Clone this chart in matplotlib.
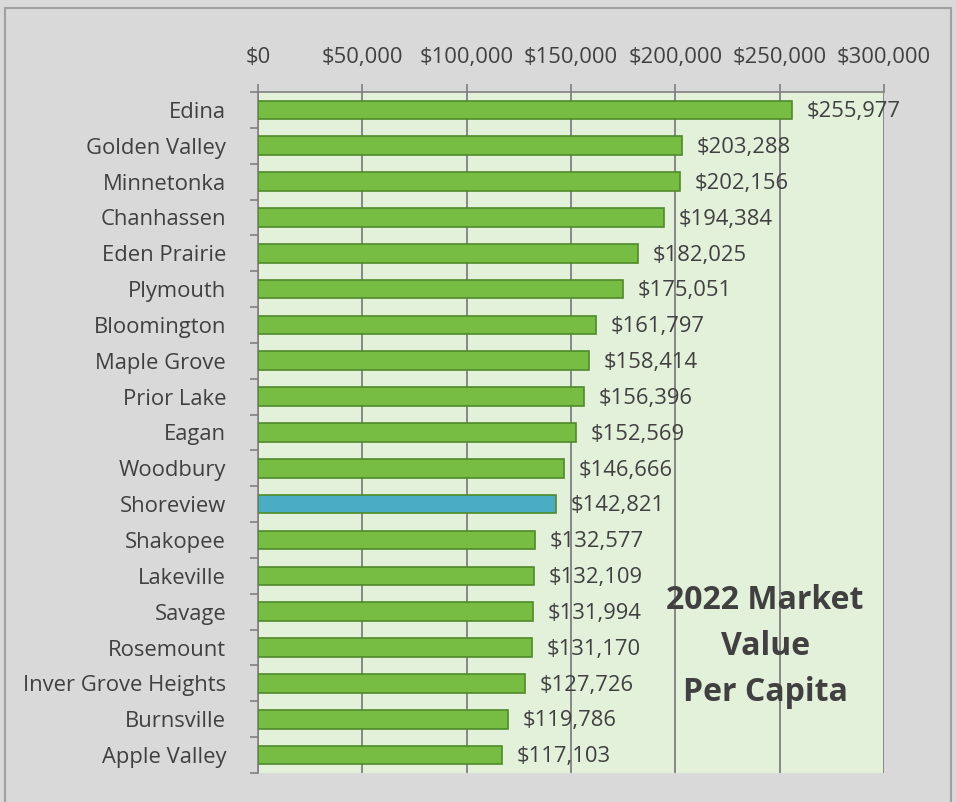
import numpy as np
import matplotlib.pyplot as plt
from matplotlib.patches import Rectangle
from matplotlib.ticker import FuncFormatter, FixedLocator

cities = ['Edina', 'Golden Valley', 'Minnetonka', 'Chanhassen', 'Eden Prairie',
          'Plymouth', 'Bloomington', 'Maple Grove', 'Prior Lake', 'Eagan',
          'Woodbury', 'Shoreview', 'Shakopee', 'Lakeville', 'Savage',
          'Rosemount', 'Inver Grove Heights', 'Burnsville', 'Apple Valley']
values = [255977, 203288, 202156, 194384, 182025,
          175051, 161797, 158414, 156396, 152569,
          146666, 142821, 132577, 132109, 131994,
          131170, 127726, 119786, 117103]
highlight = 'Shoreview'

plt.rcParams['font.family'] = ['Open Sans', 'DejaVu Sans']
fs = 15.8

fig = plt.figure(figsize=(9.56, 8.02), dpi=100, facecolor='#d9d9d9')
fig.patches.append(Rectangle((0.005, -0.01), 0.99, 1.0, transform=fig.transFigure,
                             fill=False, edgecolor='#a0a0a0', linewidth=1.5))
ax = fig.add_axes([0.2699, 0.0362, 0.6548, 0.8491])
ax.set_facecolor('#e3f0da')

y = np.arange(len(cities))
colors = ['#4bacc6' if c == highlight else '#77bd43' for c in cities]
ax.barh(y, values, height=0.52, color=colors, edgecolor='#4f8a2a', linewidth=1.2, zorder=3)

for yi, v in zip(y, values):
    ax.text(v + 7000, yi + 0.05, f'${v:,.0f}', va='center', ha='left',
            fontsize=fs, color='#404040', zorder=4)

ax.set_xlim(0, 300000)
ax.set_ylim(len(cities) - 0.5, -0.5)
ax.xaxis.tick_top()
ax.set_xticks(np.arange(0, 300001, 50000))
ax.xaxis.set_major_formatter(FuncFormatter(lambda x, p: f'${x:,.0f}'))
ax.tick_params(axis='x', labelsize=fs, labelcolor='#404040', color='#808080',
               length=6, width=1.2, pad=11)
ax.grid(axis='x', color='#808080', linewidth=1.3, zorder=1)

ax.set_yticks(y)
ax.set_yticklabels(cities)
ax.tick_params(axis='y', which='major', length=0, labelsize=fs, labelcolor='#404040', pad=23)
ax.yaxis.set_minor_locator(FixedLocator(np.arange(-0.5, len(cities), 1)))
ax.tick_params(axis='y', which='minor', length=6, width=1.2, color='#808080')

for s in ['right', 'bottom']:
    ax.spines[s].set_visible(False)
for s in ['left', 'top']:
    ax.spines[s].set_color('#808080')
    ax.spines[s].set_linewidth(1.2)

ax.text(0.81, 0.186, '2022 Market\nValue\nPer Capita', transform=ax.transAxes,
        ha='center', va='center', fontsize=23, fontweight='bold', color='#404040',
        linespacing=1.52, zorder=5)

fig.savefig('out.png', dpi=100, facecolor=fig.get_facecolor())
